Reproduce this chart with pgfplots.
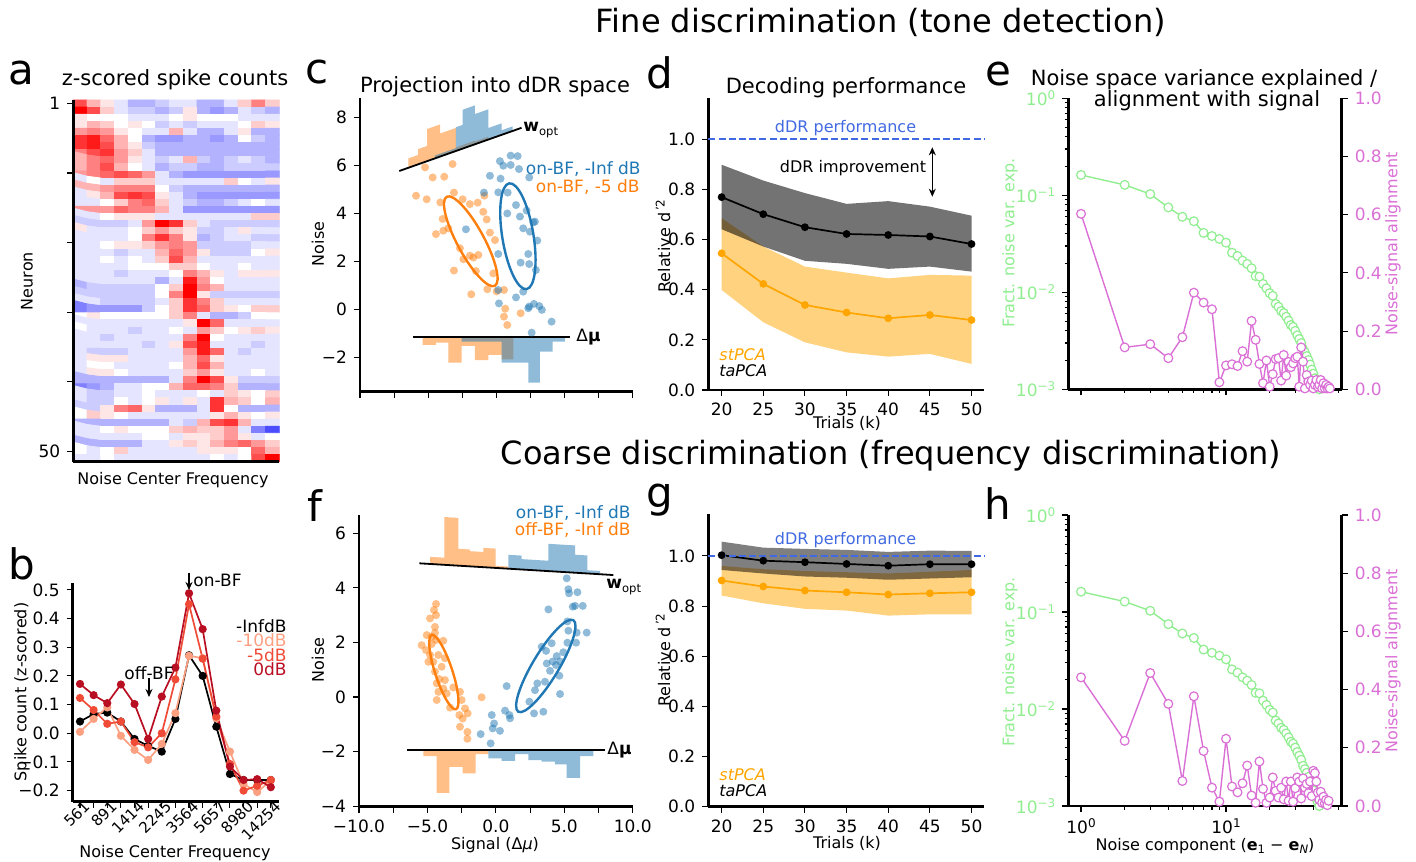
\documentclass[border=0pt]{standalone}
\usepackage{fontspec}
\setmainfont{DejaVu Sans}
\usepackage{pgfplots}
\pgfplotsset{compat=1.18}
\usetikzlibrary{arrows.meta}
\definecolor{tabblue}{RGB}{31,119,180}
\definecolor{taborange}{RGB}{255,127,14}
\definecolor{mplorange}{RGB}{255,165,0}
\definecolor{royal}{RGB}{65,105,225}
\definecolor{lgreen}{RGB}{144,238,144}
\definecolor{orch}{RGB}{218,112,214}
\definecolor{dbA}{RGB}{252,160,130}
\definecolor{dbB}{RGB}{239,75,55}
\definecolor{dbC}{RGB}{185,15,35}
\newcommand\fs[1]{\fontsize{#1}{#1}\selectfont}
\newcommand\sups[1]{\raisebox{0.62ex}{\fs{6}#1}}
\newcommand\subs[1]{\raisebox{-0.35ex}{\fs{5.8}#1}}
\pgfplotsset{
  panel/.style={scale only axis, clip=false, axis lines=left,
    axis line style={-, line width=1.25pt},
    tick align=outside, major tick length=3pt, minor tick length=1.8pt,
    every tick/.style={black, line width=0.55pt},
    tick label style={font=\fs{8.5}}},
  scat/.style={only marks, mark=*, mark size=2pt, mark options={draw opacity=0, fill=#1, fill opacity=0.5}},
  logleft/.style={scale only axis, width=136.7pt, height=145.5pt,
    xmin=0.817, xmax=62.8, ymin=1e-3, ymax=1,
    axis x line=bottom, axis y line=left, axis line style={-, line width=1.25pt},
    tick align=outside, major tick length=3pt, minor tick length=1.8pt,
    every tick/.style={black, line width=0.55pt}, tick label style={font=\fs{8.5}},
    xtick={1,10}, minor xtick={2,3,4,5,6,7,8,9,20,30,40,50,60},
    ytick={0.001,0.01,0.1,1}, yticklabels={10\sups{−3},10\sups{−2},10\sups{−1},10\sups{0}},
    minor ytick={0.002,0.003,0.004,0.005,0.006,0.007,0.008,0.009,0.02,0.03,0.04,0.05,0.06,0.07,0.08,0.09,0.2,0.3,0.4,0.5,0.6,0.7,0.8,0.9},
    yticklabel style={text=lgreen}},
  linright/.style={scale only axis, width=136.7pt, height=145.5pt,
    xmin=0.817, xmax=62.8, ymin=0, ymax=1,
    axis x line=none, axis y line=right, axis line style={-, line width=1.25pt},
    tick align=outside, major tick length=3pt,
    every tick/.style={black, line width=0.55pt}, tick label style={font=\fs{8.5}},
    ytick={0,0.2,0.4,0.6,0.8,1}, yticklabels={0.0,0.2,0.4,0.6,0.8,1.0}, yticklabel style={text=orch}},
  greenline/.style={lgreen, line width=0.7pt, mark=*, mark size=2.2pt, mark options={fill=white, draw=lgreen, line width=0.6pt}},
  pinkline/.style={orch, line width=0.7pt, mark=*, mark size=2.2pt, mark options={fill=white, draw=orch, line width=0.6pt}},
}
\begin{document}
\begin{tikzpicture}
\useasboundingbox (0pt,0pt) rectangle (708pt,430.5pt);
% ---------------- a
\begin{axis}[panel, axis on top, at={(36.65pt,199.65pt)}, anchor=south west, width=103pt, height=180.85pt,
  xmin=-0.5, xmax=14.5, ymin=-0.5, ymax=50.5,
  xtick=\empty, ytick={1,10.8,20.6,30.4,40.2,50}, yticklabels={50,,,,,1},
  colormap={bwr}{rgb255=(0,0,255) rgb255=(255,255,255) rgb255=(255,0,0)},
  point meta min=-10, point meta max=10]
\addplot[matrix plot*, mesh/cols=15, point meta=explicit] table[header=false, row sep=\\, x expr={mod(\coordindex,15)}, y expr={50-floor(\coordindex/15)}, meta index=0] {
7\\3\\1\\-1\\-3\\-3\\-2\\-1\\-1\\-3\\-3\\-1\\2\\5\\2\\
10\\7\\2\\-1\\-2\\-2\\-3\\-2\\1\\-3\\-4\\-3\\-1\\-2\\-3\\
1\\0\\0\\0\\-1\\-1\\-1\\0\\1\\0\\0\\0\\-1\\-1\\-1\\
1\\3\\2\\0\\1\\0\\-2\\-1\\-2\\-1\\-1\\-1\\0\\2\\1\\
4\\5\\4\\1\\0\\-1\\-1\\3\\-1\\-3\\-3\\-1\\1\\-3\\-3\\
8\\9\\6\\3\\0\\-3\\-4\\-4\\-3\\-3\\-4\\-3\\0\\-2\\-3\\
8\\9\\7\\3\\1\\-2\\-3\\-3\\-3\\-3\\-3\\-3\\-3\\-3\\-3\\
5\\7\\8\\4\\2\\-1\\-3\\-3\\-3\\-3\\-3\\-3\\-3\\-3\\-3\\
3\\5\\6\\4\\1\\-1\\-2\\-1\\3\\-2\\-3\\-2\\-1\\-2\\-3\\
3\\5\\7\\3\\0\\-1\\-3\\-2\\-2\\-3\\-3\\-2\\-2\\-2\\-2\\
4\\5\\6\\7\\6\\4\\-1\\-3\\-4\\-4\\-4\\-4\\-4\\-4\\-4\\
-1\\0\\-1\\2\\2\\2\\-1\\-1\\-1\\-1\\-1\\2\\0\\-1\\1\\
3\\3\\4\\5\\5\\5\\0\\-2\\-3\\-3\\-3\\-3\\-3\\-3\\-3\\
-1\\1\\3\\7\\8\\7\\1\\-1\\-3\\-4\\-4\\-4\\-4\\-4\\-4\\
-1\\-1\\0\\2\\5\\6\\2\\-1\\-2\\-3\\-3\\-2\\-1\\0\\-1\\
4\\4\\4\\6\\5\\5\\3\\-1\\-4\\-4\\-4\\-4\\-4\\-4\\-4\\
-1\\-1\\0\\1\\1\\1\\-1\\-1\\-1\\-1\\-1\\-1\\-1\\2\\2\\
-2\\-2\\-2\\-2\\-1\\4\\10\\8\\2\\-1\\-2\\-2\\-2\\-2\\-2\\
1\\-1\\-1\\-1\\0\\2\\4\\2\\1\\-2\\-2\\-1\\1\\-1\\-1\\
-1\\-1\\-1\\-1\\0\\5\\8\\5\\1\\-3\\-2\\-1\\-1\\-2\\-2\\
-1\\-1\\0\\1\\1\\2\\4\\5\\4\\-2\\-2\\-2\\-2\\-1\\-1\\
-1\\-1\\-1\\-2\\-1\\-1\\3\\6\\4\\1\\-2\\-2\\-2\\0\\1\\
-1\\-1\\0\\-1\\0\\-1\\2\\7\\3\\-1\\-1\\-1\\-1\\-1\\-1\\
-1\\-1\\-1\\-1\\0\\0\\0\\2\\2\\0\\-1\\-1\\0\\-1\\-1\\
-1\\-1\\-1\\-2\\-1\\-1\\-1\\0\\5\\3\\1\\-1\\1\\1\\1\\
-1\\-1\\-1\\-1\\-1\\-1\\-3\\-1\\9\\4\\0\\-1\\-1\\-1\\-1\\
-3\\-2\\-2\\-2\\-2\\-2\\0\\2\\10\\5\\3\\-1\\-1\\-1\\-1\\
-2\\-2\\-2\\-2\\-2\\-2\\0\\5\\10\\1\\-2\\-2\\-2\\-2\\-2\\
-1\\-1\\-2\\-2\\-2\\-2\\-1\\2\\8\\5\\2\\-1\\-1\\-1\\-1\\
-5\\-4\\-4\\-4\\-4\\-2\\0\\2\\8\\6\\2\\1\\0\\2\\2\\
0\\1\\0\\0\\0\\0\\0\\2\\5\\-1\\-3\\-3\\-2\\0\\0\\
-1\\-1\\-1\\-1\\-1\\-1\\-1\\-1\\1\\10\\6\\-1\\-1\\-1\\-1\\
0\\-1\\-1\\-1\\-2\\-1\\-1\\0\\-1\\4\\2\\0\\1\\2\\1\\
-1\\-1\\-2\\-1\\-1\\-1\\-1\\-1\\5\\10\\0\\-1\\-1\\-1\\-1\\
-1\\-1\\-1\\-1\\-1\\-2\\-1\\1\\7\\9\\-1\\-1\\-1\\-2\\-1\\
-1\\-2\\-2\\-2\\-1\\-1\\-1\\-1\\4\\9\\6\\-1\\-2\\-1\\-1\\
-1\\1\\1\\1\\-1\\-1\\-1\\-1\\3\\6\\1\\-1\\-1\\-1\\-1\\
-1\\0\\0\\-1\\-1\\-1\\-1\\0\\3\\7\\3\\-1\\-1\\-1\\-1\\
-1\\1\\1\\0\\-1\\-1\\-1\\-1\\2\\4\\1\\-1\\-1\\0\\-1\\
-3\\-3\\-3\\-3\\-3\\-3\\-3\\-1\\5\\10\\7\\1\\-2\\-2\\-2\\
-5\\-4\\-3\\-1\\-1\\0\\0\\3\\6\\6\\5\\2\\-3\\-3\\-3\\
-1\\-2\\-2\\-1\\-1\\0\\-1\\-1\\-1\\0\\-1\\2\\1\\0\\2\\
-1\\-2\\-2\\0\\-1\\0\\1\\-1\\1\\-1\\8\\3\\2\\0\\3\\
-2\\-2\\1\\5\\6\\1\\-3\\-3\\-3\\-1\\8\\0\\-3\\-3\\-3\\
0\\2\\1\\0\\-1\\-1\\-1\\-1\\-1\\-1\\1\\3\\1\\0\\1\\
-3\\-3\\-3\\-3\\-3\\-3\\-3\\-1\\-2\\3\\7\\8\\3\\-1\\-1\\
-1\\-1\\0\\1\\0\\0\\0\\2\\3\\2\\2\\4\\-1\\-5\\-7\\
-1\\-1\\-1\\-1\\-1\\0\\0\\-1\\1\\1\\2\\4\\1\\-1\\0\\
-3\\-3\\-3\\-3\\-3\\-1\\-1\\1\\2\\1\\3\\5\\6\\4\\2\\
0\\-1\\0\\2\\-1\\-1\\-1\\-1\\-1\\1\\1\\1\\0\\6\\3\\
-1\\-1\\0\\-1\\-1\\-1\\-1\\-1\\-1\\-1\\0\\-1\\0\\7\\10\\
};
\end{axis}
% ---------------- b
\begin{axis}[panel, at={(36.35pt,29.65pt)}, anchor=south west, width=103.15pt, height=109.5pt,
  xmin=-0.536, xmax=14.6, ymin=-0.2386, ymax=0.525,
  xtick={0,...,14}, xticklabels={561,,891,,1414,,2245,,3564,,5657,,8980,,14254},
  xticklabel style={rotate=45, anchor=north east, xshift=5pt, yshift=3pt, font=\fs{7.5}, inner sep=1pt},
  ytick={-0.2,-0.1,0,0.1,0.2,0.3,0.4,0.5}, yticklabels={−0.2,−0.1,0.0,0.1,0.2,0.3,0.4,0.5}]
\addplot[black, line width=0.85pt, mark=*, mark size=1.6pt] coordinates {(0,0.041)(1,0.067)(2,0.072)(3,0.041)(4,-0.02)(5,-0.044)(6,-0.064)(7,0.05)(8,0.272)(9,0.2)(10,0.023)(11,-0.142)(12,-0.163)(13,-0.163)(14,-0.163)};
\addplot[dbA, line width=0.85pt, mark=*, mark size=1.6pt] coordinates {(0,0.005)(1,0.05)(2,0.09)(3,-0.009)(4,-0.058)(5,-0.093)(6,-0.037)(7,0.07)(8,0.27)(9,0.262)(10,0.052)(11,-0.064)(12,-0.177)(13,-0.205)(14,-0.165)};
\addplot[dbB, line width=0.85pt, mark=*, mark size=1.6pt] coordinates {(0,0.123)(1,0.081)(2,0.033)(3,0.041)(4,-0.031)(5,-0.049)(6,0.0)(7,0.188)(8,0.45)(9,0.26)(10,0.058)(11,-0.107)(12,-0.2)(13,-0.183)(14,-0.163)};
\addplot[dbC, line width=0.85pt, mark=*, mark size=1.6pt] coordinates {(0,0.172)(1,0.133)(2,0.105)(3,0.170)(4,0.102)(5,-0.02)(6,0.128)(7,0.229)(8,0.488)(9,0.363)(10,0.079)(11,-0.116)(12,-0.163)(13,-0.16)(14,-0.188)};
\end{axis}
% ---------------- c
\begin{axis}[panel, at={(180pt,234.65pt)}, anchor=south west, width=136.35pt, height=146.7pt,
  xmin=-10, xmax=10, ymin=-3.42, ymax=8.81,
  xtick={-10,-7.5,...,10}, xticklabels={},
  ytick={-2,0,2,4,6,8}, yticklabels={−2,0,2,4,6,8}]
\addplot[fill=taborange, fill opacity=0.5, draw=none] coordinates {(-6.46,5.912)(-6.46,6.302)(-5.73,6.449)(-5.73,6.694)(-5.07,6.826)(-5.07,7.531)(-4.13,7.720)(-4.13,7.340)(-2.96,7.575)(-2.96,6.765)(-1.57,7.044)(-1.57,7.014)(-0.59,7.210)(-0.59,7.090)};
\addplot[fill=tabblue, fill opacity=0.5, draw=none] coordinates {(-4.50,6.306)(-4.50,6.426)(-2.96,6.735)(-2.96,7.605)(-2.47,7.703)(-2.47,8.333)(-1.57,8.514)(-1.57,8.154)(-0.59,8.350)(-0.59,7.570)(0.39,7.767)(0.39,7.477)(1.19,7.638)(1.19,7.448)};
\addplot[fill=taborange, fill opacity=0.5, draw=none] coordinates {(-5.41,-1.125)(-5.41,-1.47)(-4.43,-1.47)(-4.43,-1.375)(-3.52,-1.375)(-3.52,-2.21)(-2.55,-2.21)(-2.55,-1.51)(-1.57,-1.51)(-1.57,-2.10)(-0.59,-2.10)(-0.59,-1.89)(0.39,-1.89)(0.39,-2.07)(1.24,-2.07)(1.24,-1.125)};
\addplot[fill=tabblue, fill opacity=0.5, draw=none] coordinates {(-2.55,-1.125)(-2.55,-1.33)(0.39,-1.33)(0.39,-2.21)(2.34,-2.21)(2.34,-3.04)(3.20,-3.04)(3.20,-1.75)(4.12,-1.75)(4.12,-1.33)(5.03,-1.33)(5.03,-1.125)};
\addplot[black, line width=0.9pt] coordinates {(-7.12,5.78)(1.85,7.58)};
\addplot[black, line width=0.9pt] coordinates {(-6.09,-1.125)(5.40,-1.125)};
\addplot[scat=taborange] coordinates {(-5.23,5.93)(-4.67,5.51)(-3.82,5.54)(-3.21,6.07)(-5.89,4.75)(-5.11,4.60)(-4.11,4.47)(-3.11,4.88)(-2.47,4.60)(-1.94,4.40)(-1.37,4.46)(-0.88,4.75)(-3.94,3.78)(-3.52,3.39)(-4.43,3.15)(-3.89,3.29)(-0.47,3.21)(-0.10,2.90)(-3.11,1.63)(-2.42,2.10)(-1.94,2.25)(-1.69,2.17)(-1.32,2.28)(-1.50,1.61)(-0.22,1.51)(-0.66,0.85)(-1.84,0.64)(0.02,0.76)(0.56,0.82)(0.65,0.04)(0.56,-0.29)(0.80,-0.64)(1.78,-0.15)(-2.67,2.56)(-0.96,4.08)(-0.71,3.76)};
\addplot[scat=tabblue] coordinates {(0.26,6.19)(0.51,6.0)(1.05,6.42)(1.56,6.40)(1.05,6.03)(1.66,5.86)(2.41,5.51)(-0.47,5.58)(0.31,5.46)(-0.91,4.88)(0.14,4.89)(0.83,4.88)(1.44,4.36)(0.80,4.01)(1.73,3.88)(2.22,4.13)(2.71,3.64)(1.97,3.39)(2.46,3.25)(2.83,3.67)(3.00,2.88)(-2.23,3.35)(0.14,2.32)(1.78,1.96)(2.41,1.90)(2.34,2.32)(2.90,1.65)(0.14,0.82)(1.44,0.51)(1.97,0.75)(2.41,0.13)(2.76,0.24)(3.15,0.15)(3.34,-0.01)(2.59,-0.96)(4.05,-0.5)(0.19,0.26)(2.34,0.06)};
\draw[taborange, line width=1.2pt, rotate around={-61.6:(axis cs:-1.875,2.85)}] (axis cs:-1.875,2.85) ellipse [x radius=25.3pt, y radius=6.7pt];
\draw[tabblue, line width=1.2pt, rotate around={-80.7:(axis cs:1.58,3.06)}] (axis cs:1.58,3.06) ellipse [x radius=26.8pt, y radius=7.8pt];
\end{axis}
% ---------------- f
\begin{axis}[panel, at={(179.5pt,27.15pt)}, anchor=south west, width=136.85pt, height=145.85pt,
  xmin=-10, xmax=10, ymin=-4.02, ymax=6.67,
  xtick={-10,-7.5,...,10}, xticklabels={−10.0,,−5.0,,0.0,,5.0,,10.0},
  ytick={-4,-2,0,2,4,6}, yticklabels={−4,−2,0,2,4,6}]
\addplot[fill=taborange, fill opacity=0.5, draw=none] coordinates {(-4.81,4.876)(-4.81,5.136)(-3.76,5.105)(-3.76,6.595)(-2.74,6.564)(-2.74,5.434)(-1.89,5.404)(-1.89,5.344)(-0.91,5.315)(-0.91,5.465)(-0.01,5.438)(-0.01,4.808)(0.91,4.78)(0.91,4.70)};
\addplot[fill=tabblue, fill opacity=0.5, draw=none] coordinates {(0.91,4.70)(0.91,5.21)(1.89,5.183)(1.89,5.053)(3.84,4.994)(3.84,5.614)(5.79,5.555)(5.79,5.215)(6.69,5.187)(6.69,4.647)(7.61,4.62)(7.61,4.50)};
\addplot[fill=taborange, fill opacity=0.5, draw=none] coordinates {(-5.30,-1.95)(-5.30,-2.17)(-4.32,-2.17)(-4.32,-3.51)(-3.40,-3.51)(-3.40,-2.56)(-2.42,-2.56)(-2.42,-2.80)(-1.47,-2.80)(-1.47,-2.09)(-0.55,-2.09)(-0.55,-1.95)};
\addplot[fill=tabblue, fill opacity=0.5, draw=none] coordinates {(-0.55,-1.95)(-0.55,-2.25)(0.43,-2.25)(0.43,-2.34)(1.40,-2.34)(1.40,-2.09)(2.38,-2.09)(2.38,-2.31)(3.35,-2.31)(3.35,-2.37)(4.32,-2.37)(4.32,-2.47)(5.18,-2.47)(5.18,-2.96)(6.15,-2.96)(6.15,-2.17)(7.13,-2.17)(7.13,-1.95)};
\addplot[black, line width=0.9pt] coordinates {(-5.59,4.90)(8.59,4.47)};
\addplot[black, line width=0.9pt] coordinates {(-6.47,-1.95)(7.98,-1.95)};
\addplot[scat=taborange] coordinates {(-4.37,3.41)(-4.52,3.19)(-4.37,3.00)(-4.81,2.88)(-4.45,2.57)(-4.45,2.35)(-5.05,2.27)(-4.69,2.21)(-4.37,2.09)(-3.84,2.06)(-5.42,1.90)(-5.10,1.72)(-4.81,1.54)(-4.20,1.54)(-3.72,1.42)(-4.57,1.29)(-4.93,1.29)(-3.96,1.11)(-4.45,0.93)(-4.13,0.66)(-3.72,0.62)(-4.32,0.50)(-3.11,0.35)(-4.20,0.19)(-3.59,0.13)(-4.32,-0.11)(-3.35,-0.39)(-2.62,0.19)(-2.50,-0.11)(-2.25,-0.42)(-2.67,-0.66)(-2.42,-0.79)(-2.06,-0.60)(-2.62,-1.09)(-2.08,-1.28)(-2.08,-1.53)(-1.04,-0.01)(-3.84,0.31)(-4.69,1.94)};
\addplot[scat=tabblue] coordinates {(5.18,4.35)(5.30,3.95)(5.35,3.80)(5.96,3.84)(3.84,3.21)(5.62,3.31)(5.79,3.34)(6.35,3.34)(5.23,2.77)(5.30,2.43)(5.91,2.36)(6.64,2.36)(5.86,1.99)(5.23,1.99)(4.08,1.97)(3.35,1.84)(3.67,1.69)(4.45,1.50)(4.15,1.30)(4.69,1.30)(3.72,1.23)(4.40,1.17)(3.96,0.96)(3.59,0.56)(4.64,0.78)(3.03,0.50)(2.86,0.25)(2.45,-0.17)(2.79,-0.60)(3.47,-0.54)(0.79,0.40)(0.67,-0.50)(1.04,-0.78)(0.99,-0.66)(-0.30,-0.66)(-0.23,-1.15)(-0.13,-0.97)(0.30,-1.24)(-0.38,-1.70)(-1.11,-1.36)(4.93,1.64)(4.69,0.11)};
\draw[taborange, line width=1.2pt, rotate around={-71.9:(axis cs:-3.80,0.91)}] (axis cs:-3.80,0.91) ellipse [x radius=19.5pt, y radius=4.3pt];
\draw[tabblue, line width=1.2pt, rotate around={59:(axis cs:3.65,1.14)}] (axis cs:3.65,1.14) ellipse [x radius=26.7pt, y radius=6.5pt];
\end{axis}
% ---------------- d
\begin{axis}[panel, at={(354.15pt,235.5pt)}, anchor=south west, width=137.85pt, height=145.85pt,
  xmin=18.4, xmax=51.5, ymin=0, ymax=1.163,
  xtick={20,25,...,50}, xticklabels={20,25,30,35,40,45,50}, ytick={0,0.2,0.4,0.6,0.8,1.0}, yticklabels={0.0,0.2,0.4,0.6,0.8,1.0}]
\addplot[fill=mplorange, fill opacity=0.5, draw=none] coordinates {(20,0.685)(25,0.572)(30,0.492)(35,0.468)(40,0.445)(45,0.459)(50,0.456)(50,0.104)(45,0.144)(40,0.133)(35,0.15)(30,0.19)(25,0.27)(20,0.399)};
\addplot[fill=black, fill opacity=0.55, draw=none] coordinates {(20,0.898)(25,0.835)(30,0.785)(35,0.742)(40,0.753)(45,0.731)(50,0.695)(50,0.472)(45,0.492)(40,0.483)(35,0.503)(30,0.515)(25,0.572)(20,0.641)};
\addplot[mplorange, line width=0.85pt, mark=*, mark size=1.5pt] coordinates {(20,0.545)(25,0.423)(30,0.339)(35,0.309)(40,0.286)(45,0.299)(50,0.279)};
\addplot[black, line width=0.85pt, mark=*, mark size=1.5pt] coordinates {(20,0.769)(25,0.701)(30,0.649)(35,0.622)(40,0.618)(45,0.612)(50,0.582)};
\addplot[royal, line width=0.75pt, dash pattern=on 3.5pt off 1.6pt] coordinates {(18.4,1)(51.5,1)};
\end{axis}
% ---------------- g
\begin{axis}[panel, at={(354.15pt,27.15pt)}, anchor=south west, width=137.85pt, height=146.2pt,
  xmin=18.4, xmax=51.5, ymin=0, ymax=1.166,
  xtick={20,25,...,50}, xticklabels={20,25,30,35,40,45,50}, ytick={0,0.2,0.4,0.6,0.8,1.0}, yticklabels={0.0,0.2,0.4,0.6,0.8,1.0}]
\addplot[fill=mplorange, fill opacity=0.5, draw=none] coordinates {(20,0.96)(25,0.947)(30,0.94)(35,0.935)(40,0.93)(45,0.937)(50,0.944)(50,0.767)(45,0.767)(40,0.762)(35,0.782)(30,0.789)(25,0.811)(20,0.842)};
\addplot[fill=black, fill opacity=0.5, draw=none] coordinates {(20,1.057)(25,1.033)(30,1.028)(35,1.024)(40,1.016)(45,1.021)(50,1.02)(50,0.915)(45,0.91)(40,0.905)(35,0.913)(30,0.918)(25,0.93)(20,0.944)};
\addplot[mplorange, line width=0.85pt, mark=*, mark size=1.5pt] coordinates {(20,0.902)(25,0.878)(30,0.862)(35,0.855)(40,0.846)(45,0.851)(50,0.855)};
\addplot[black, line width=0.85pt, mark=*, mark size=1.5pt] coordinates {(20,1.003)(25,0.981)(30,0.975)(35,0.968)(40,0.961)(45,0.967)(50,0.967)};
\addplot[royal, line width=0.75pt, dash pattern=on 3.5pt off 1.6pt] coordinates {(18.4,1)(51.5,1)};
\end{axis}
% ---------------- e
\begin{loglogaxis}[logleft, at={(534.15pt,235.85pt)}, anchor=south west, xticklabels={}]
\addplot[greenline] coordinates {(1,0.162)(2,0.128)(3,0.103)(4,0.075)(5,0.060)(6,0.054)(7,0.041)(8,0.038)(9,0.0355)(10,0.0325)(11,0.0256)(12,0.0237)(13,0.0212)(14,0.0196)(15,0.0177)(16,0.0147)(17,0.0145)(18,0.0122)(19,0.011)(20,0.0098)(21,0.0092)(22,0.0076)(23,0.0071)(24,0.0064)(25,0.0061)(26,0.0056)(27,0.0051)(28,0.0046)(29,0.0044)(30,0.0040)(31,0.0036)(32,0.0033)(33,0.0030)(34,0.0026)(35,0.0024)(36,0.0022)(37,0.0020)(38,0.0018)(39,0.0016)(40,0.00145)(41,0.0013)(42,0.00118)(43,0.00108)(44,0.00100)};
\end{loglogaxis}
\begin{semilogxaxis}[linright, at={(534.15pt,235.85pt)}, anchor=south west]
\addplot[pinkline] coordinates {(1,0.603)(2,0.144)(3,0.155)(4,0.107)(5,0.179)(6,0.332)(7,0.298)(8,0.275)(9,0.024)(10,0.082)(11,0.086)(12,0.080)(13,0.131)(14,0.095)(15,0.235)(16,0.17)(17,0.087)(18,0.021)(19,0.099)(20,0.009)(21,0.052)(22,0.104)(23,0.107)(24,0.03)(25,0.118)(26,0.047)(27,0.094)(28,0.076)(29,0.089)(30,0.107)(31,0.112)(32,0.009)(33,0.144)(34,0.095)(35,0.003)(36,0.049)(37,0.026)(38,0.015)(39,0.03)(40,0.003)(41,0.015)(42,0.032)(43,0.009)(44,0.015)(45,0.032)(46,0.003)(47,0.021)(48,0.003)(49,0.015)(50,0.003)(51,0.009)(52,0.003)};
\end{semilogxaxis}
% ---------------- h
\begin{loglogaxis}[logleft, at={(534.15pt,27.5pt)}, anchor=south west, xticklabels={10\sups{0},10\sups{1}}]
\addplot[greenline] coordinates {(1,0.162)(2,0.128)(3,0.103)(4,0.075)(5,0.060)(6,0.054)(7,0.041)(8,0.038)(9,0.0355)(10,0.0325)(11,0.0256)(12,0.0237)(13,0.0212)(14,0.0196)(15,0.0177)(16,0.0147)(17,0.0145)(18,0.0122)(19,0.011)(20,0.0098)(21,0.0092)(22,0.0076)(23,0.0071)(24,0.0064)(25,0.0061)(26,0.0056)(27,0.0051)(28,0.0046)(29,0.0044)(30,0.0040)(31,0.0036)(32,0.0033)(33,0.0030)(34,0.0026)(35,0.0024)(36,0.0022)(37,0.0020)(38,0.0018)(39,0.0016)(40,0.00145)(41,0.0013)(42,0.00118)(43,0.00108)(44,0.00100)};
\end{loglogaxis}
\begin{semilogxaxis}[linright, at={(534.15pt,27.5pt)}, anchor=south west]
\addplot[pinkline] coordinates {(1,0.442)(2,0.224)(3,0.457)(4,0.351)(5,0.086)(6,0.377)(7,0.189)(8,0.063)(9,0.015)(10,0.231)(11,0.067)(12,0.047)(13,0.078)(14,0.139)(15,0.036)(16,0.011)(17,0.153)(18,0.059)(19,0.011)(20,0.029)(21,0.098)(22,0.052)(23,0.029)(24,0.063)(25,0.023)(26,0.084)(27,0.018)(28,0.084)(29,0.015)(30,0.061)(31,0.098)(32,0.084)(33,0.026)(34,0.095)(35,0.063)(36,0.076)(37,0.044)(38,0.084)(39,0.034)(40,0.121)(41,0.113)(42,0.084)(43,0.046)(44,0.021)(45,0.049)(46,0.011)(47,0.032)(48,0.009)(49,0.021)(50,0.003)(51,0.018)};
\end{semilogxaxis}
% ---------------- texts
\begin{scope}[x=0.5pt,y=0.5pt]
\node[font=\fs{16}] at (881,839) {Fine discrimination (tone detection)};
\node[font=\fs{16}] at (891,405) {Coarse discrimination (frequency discrimination)};
\foreach \l/\x/\y in {a/21.5/788,b/21.5/297,c/317.5/788.5,d/660/788,e/998.5/787,f/315/355,g/660/361,h/997.5/357}
  \node[font=\fs{21}, inner sep=0] at (\x,\y) {\l};
\node[font=\fs{10.5}] at (175,781) {z-scored spike counts};
\node[font=\fs{10.5}] at (495,774) {Projection into dDR space};
\node[font=\fs{10.5}] at (846,773) {Decoding performance};
\node[font=\fs{10.5}] at (1204,781) {Noise space variance explained /};
\node[font=\fs{10.5}] at (1207,760) {alignment with signal};
\node[font=\fs{8}, rotate=90] at (27,580) {Neuron};
\node[font=\fs{8}] at (173,381) {Noise Center Frequency};
\node[font=\fs{8}, rotate=90] at (22,169) {Spike count (z-scored)};
\node[font=\fs{8}] at (175,8) {Noise Center Frequency};
\node[font=\fs{8}, rotate=90] at (318,617) {Noise};
\node[font=\fs{8}, rotate=90] at (318,201) {Noise};
\node[font=\fs{8}] at (495,16) {Signal (Δ\textit{μ})};
\node[font=\fs{8}, rotate=90] at (663,615) {Relative d\sups{\,'2}};
\node[font=\fs{8}] at (847,438) {Trials (k)};
\node[font=\fs{8}, rotate=90] at (663,201) {Relative d\sups{\,'2}};
\node[font=\fs{8}] at (847,18) {Trials (k)};
\node[font=\fs{8}, rotate=90, text=lgreen] at (1010,618) {Fract. noise var. exp.};
\node[font=\fs{8}, rotate=90, text=orch] at (1393,617) {Noise-signal alignment};
\node[font=\fs{8}, rotate=90, text=lgreen] at (1010,199) {Fract. noise var. exp.};
\node[font=\fs{8}, rotate=90, text=orch] at (1393,200) {Noise-signal alignment};
\node[font=\fs{8}] at (1205,15) {Noise component (\textbf{e}\subs{1} − \textbf{e}\subs{\itshape N})};
\node[font=\fs{8.5}] at (217.5,281) {on-BF};
\draw[-{Stealth[length=4pt,width=3.5pt]}, line width=0.7pt] (189,288) -- (189,271);
\node[font=\fs{8.5}] at (149,188) {off-BF};
\draw[-{Stealth[length=4pt,width=3.5pt]}, line width=0.7pt] (149,183) -- (149,164);
\node[font=\fs{8.5}, anchor=east, inner sep=0] at (287,235) {-InfdB};
\node[font=\fs{8.5}, anchor=east, inner sep=0, text=dbA] at (287,220.5) {-10dB};
\node[font=\fs{8.5}, anchor=east, inner sep=0, text=dbB] at (287,206) {-5dB};
\node[font=\fs{8.5}, anchor=east, inner sep=0, text=dbC] at (287,191.5) {0dB};
\node[font=\fs{8.5}, anchor=east, inner sep=0, text=tabblue] at (641,692) {on-BF, -Inf dB};
\node[font=\fs{8.5}, anchor=east, inner sep=0, text=taborange] at (640,673.7) {on-BF, -5 dB};
\node[font=\fs{8.5}, anchor=west, inner sep=0] at (523,731) {\textbf{w}\subs{opt}};
\node[font=\fs{8.5}, anchor=west, inner sep=0] at (576,524) {Δ\textbf{μ}};
\node[font=\fs{8.5}, anchor=east, inner sep=0, text=tabblue] at (631,347.7) {on-BF, -Inf dB};
\node[font=\fs{8.5}, anchor=east, inner sep=0, text=taborange] at (631,331) {off-BF, -Inf dB};
\node[font=\fs{8.5}, anchor=west, inner sep=0] at (606,274) {\textbf{w}\subs{opt}};
\node[font=\fs{8.5}, anchor=west, inner sep=0] at (607,111) {Δ\textbf{μ}};
\node[font=\fs{8}, text=royal] at (845.5,733.3) {dDR performance};
\node[font=\fs{8}] at (853,692.7) {dDR improvement};
\draw[{Stealth[length=4pt,width=3.5pt]}-{Stealth[length=4pt,width=3.5pt]}, line width=0.7pt] (932.3,713.7) -- (932.3,664.3);
\node[font=\fs{8}, anchor=west, inner sep=0, text=mplorange] at (719,506) {\itshape stPCA};
\node[font=\fs{8}, anchor=west, inner sep=0] at (719,490.3) {\itshape taPCA};
\node[font=\fs{8}, text=royal] at (845.5,321) {dDR performance};
\node[font=\fs{8}, anchor=west, inner sep=0, text=mplorange] at (719,86) {\itshape stPCA};
\node[font=\fs{8}, anchor=west, inner sep=0] at (719,70.3) {\itshape taPCA};
\end{scope}
\end{tikzpicture}
\end{document}
